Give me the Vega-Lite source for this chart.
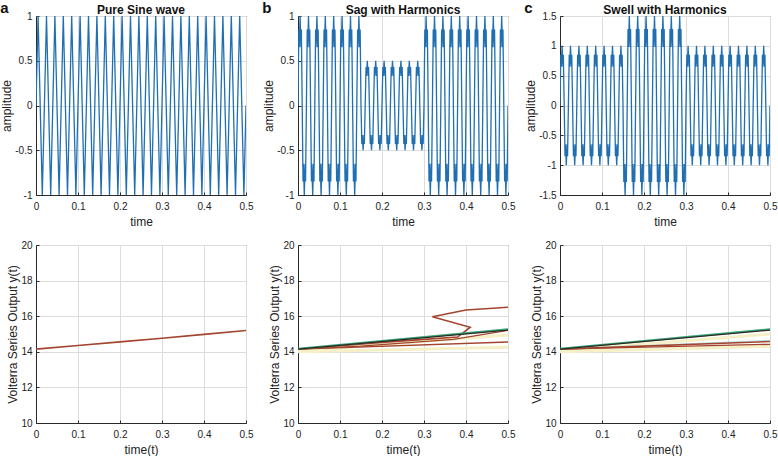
{
"$schema": "https://vega.github.io/schema/vega-lite/v6.json",
"padding": {"left": 0, "top": 0, "right": 0, "bottom": 0},
"background": "white",
"datasets": {
"sine": [
{"t":0,"v":0},{"t":0.005,"v":1},{"t":0.01,"v":0},{"t":0.015,"v":-1},
{"t":0.02,"v":0},{"t":0.025,"v":1},{"t":0.03,"v":0},{"t":0.035,"v":-1},
{"t":0.04,"v":0},{"t":0.045,"v":1},{"t":0.05,"v":0},{"t":0.055,"v":-1},
{"t":0.06,"v":0},{"t":0.065,"v":1},{"t":0.07,"v":0},{"t":0.075,"v":-1},
{"t":0.08,"v":0},{"t":0.085,"v":1},{"t":0.09,"v":0},{"t":0.095,"v":-1},
{"t":0.1,"v":0},{"t":0.105,"v":1},{"t":0.11,"v":0},{"t":0.115,"v":-1},
{"t":0.12,"v":0},{"t":0.125,"v":1},{"t":0.13,"v":0},{"t":0.135,"v":-1},
{"t":0.14,"v":0},{"t":0.145,"v":1},{"t":0.15,"v":0},{"t":0.155,"v":-1},
{"t":0.16,"v":0},{"t":0.165,"v":1},{"t":0.17,"v":0},{"t":0.175,"v":-1},
{"t":0.18,"v":0},{"t":0.185,"v":1},{"t":0.19,"v":0},{"t":0.195,"v":-1},
{"t":0.2,"v":0},{"t":0.205,"v":1},{"t":0.21,"v":0},{"t":0.215,"v":-1},
{"t":0.22,"v":0},{"t":0.225,"v":1},{"t":0.23,"v":0},{"t":0.235,"v":-1},
{"t":0.24,"v":0},{"t":0.245,"v":1},{"t":0.25,"v":0},{"t":0.255,"v":-1},
{"t":0.26,"v":0},{"t":0.265,"v":1},{"t":0.27,"v":0},{"t":0.275,"v":-1},
{"t":0.28,"v":0},{"t":0.285,"v":1},{"t":0.29,"v":0},{"t":0.295,"v":-1},
{"t":0.3,"v":0},{"t":0.305,"v":1},{"t":0.31,"v":0},{"t":0.315,"v":-1},
{"t":0.32,"v":0},{"t":0.325,"v":1},{"t":0.33,"v":0},{"t":0.335,"v":-1},
{"t":0.34,"v":0},{"t":0.345,"v":1},{"t":0.35,"v":0},{"t":0.355,"v":-1},
{"t":0.36,"v":0},{"t":0.365,"v":1},{"t":0.37,"v":0},{"t":0.375,"v":-1},
{"t":0.38,"v":0},{"t":0.385,"v":1},{"t":0.39,"v":0},{"t":0.395,"v":-1},
{"t":0.4,"v":0},{"t":0.405,"v":1},{"t":0.41,"v":0},{"t":0.415,"v":-1},
{"t":0.42,"v":0},{"t":0.425,"v":1},{"t":0.43,"v":0},{"t":0.435,"v":-1},
{"t":0.44,"v":0},{"t":0.445,"v":1},{"t":0.45,"v":0},{"t":0.455,"v":-1},
{"t":0.46,"v":0},{"t":0.465,"v":1},{"t":0.47,"v":0},{"t":0.475,"v":-1},
{"t":0.48,"v":0},{"t":0.485,"v":1},{"t":0.49,"v":0},{"t":0.495,"v":-1},
{"t":0.5,"v":0}
],
"harm": [
{"t":0,"b":0,"c":0},{"t":0.002,"b":0.85,"c":0.85},{"t":0.003,"b":0.65,"c":0.65},{"t":0.005,"b":1,"c":1},{"t":0.007,"b":0.65,"c":0.65},{"t":0.008,"b":0.85,"c":0.85},
{"t":0.01,"b":0,"c":0},{"t":0.012,"b":-0.85,"c":-0.85},{"t":0.013,"b":-0.65,"c":-0.65},{"t":0.015,"b":-1,"c":-1},{"t":0.017,"b":-0.65,"c":-0.65},{"t":0.018,"b":-0.85,"c":-0.85},
{"t":0.02,"b":0,"c":0},{"t":0.022,"b":0.85,"c":0.85},{"t":0.023,"b":0.65,"c":0.65},{"t":0.025,"b":1,"c":1},{"t":0.027,"b":0.65,"c":0.65},{"t":0.028,"b":0.85,"c":0.85},
{"t":0.03,"b":0,"c":0},{"t":0.032,"b":-0.85,"c":-0.85},{"t":0.033,"b":-0.65,"c":-0.65},{"t":0.035,"b":-1,"c":-1},{"t":0.037,"b":-0.65,"c":-0.65},{"t":0.038,"b":-0.85,"c":-0.85},
{"t":0.04,"b":0,"c":0},{"t":0.042,"b":0.85,"c":0.85},{"t":0.043,"b":0.65,"c":0.65},{"t":0.045,"b":1,"c":1},{"t":0.047,"b":0.65,"c":0.65},{"t":0.048,"b":0.85,"c":0.85},
{"t":0.05,"b":0,"c":0},{"t":0.052,"b":-0.85,"c":-0.85},{"t":0.053,"b":-0.65,"c":-0.65},{"t":0.055,"b":-1,"c":-1},{"t":0.057,"b":-0.65,"c":-0.65},{"t":0.058,"b":-0.85,"c":-0.85},
{"t":0.06,"b":0,"c":0},{"t":0.062,"b":0.85,"c":0.85},{"t":0.063,"b":0.65,"c":0.65},{"t":0.065,"b":1,"c":1},{"t":0.067,"b":0.65,"c":0.65},{"t":0.068,"b":0.85,"c":0.85},
{"t":0.07,"b":0,"c":0},{"t":0.072,"b":-0.85,"c":-0.85},{"t":0.073,"b":-0.65,"c":-0.65},{"t":0.075,"b":-1,"c":-1},{"t":0.077,"b":-0.65,"c":-0.65},{"t":0.078,"b":-0.85,"c":-0.85},
{"t":0.08,"b":0,"c":0},{"t":0.082,"b":0.85,"c":0.85},{"t":0.083,"b":0.65,"c":0.65},{"t":0.085,"b":1,"c":1},{"t":0.087,"b":0.65,"c":0.65},{"t":0.088,"b":0.85,"c":0.85},
{"t":0.09,"b":0,"c":0},{"t":0.092,"b":-0.85,"c":-0.85},{"t":0.093,"b":-0.65,"c":-0.65},{"t":0.095,"b":-1,"c":-1},{"t":0.097,"b":-0.65,"c":-0.65},{"t":0.098,"b":-0.85,"c":-0.85},
{"t":0.1,"b":0,"c":0},{"t":0.102,"b":0.85,"c":0.85},{"t":0.103,"b":0.65,"c":0.65},{"t":0.105,"b":1,"c":1},{"t":0.107,"b":0.65,"c":0.65},{"t":0.108,"b":0.85,"c":0.85},
{"t":0.11,"b":0,"c":0},{"t":0.112,"b":-0.85,"c":-0.85},{"t":0.113,"b":-0.65,"c":-0.65},{"t":0.115,"b":-1,"c":-1},{"t":0.117,"b":-0.65,"c":-0.65},{"t":0.118,"b":-0.85,"c":-0.85},
{"t":0.12,"b":0,"c":0},{"t":0.122,"b":0.85,"c":0.85},{"t":0.123,"b":0.65,"c":0.65},{"t":0.125,"b":1,"c":1},{"t":0.127,"b":0.65,"c":0.65},{"t":0.128,"b":0.85,"c":0.85},
{"t":0.13,"b":0,"c":0},{"t":0.132,"b":-0.85,"c":-0.85},{"t":0.133,"b":-0.65,"c":-0.65},{"t":0.135,"b":-1,"c":-1},{"t":0.137,"b":-0.65,"c":-0.65},{"t":0.138,"b":-0.85,"c":-0.85},
{"t":0.14,"b":0,"c":0},{"t":0.142,"b":0.85,"c":0.85},{"t":0.143,"b":0.65,"c":0.65},{"t":0.145,"b":1,"c":1},{"t":0.147,"b":0.65,"c":0.65},{"t":0.148,"b":0.85,"c":0.85},
{"t":0.15,"b":0,"c":0},{"t":0.152,"b":-0.43,"c":-1.28},{"t":0.153,"b":-0.33,"c":-0.98},{"t":0.155,"b":-0.5,"c":-1.5},{"t":0.157,"b":-0.33,"c":-0.98},{"t":0.158,"b":-0.43,"c":-1.28},
{"t":0.16,"b":0,"c":0},{"t":0.162,"b":0.43,"c":1.28},{"t":0.163,"b":0.33,"c":0.98},{"t":0.165,"b":0.5,"c":1.5},{"t":0.167,"b":0.33,"c":0.98},{"t":0.168,"b":0.43,"c":1.28},
{"t":0.17,"b":0,"c":0},{"t":0.172,"b":-0.43,"c":-1.28},{"t":0.173,"b":-0.33,"c":-0.98},{"t":0.175,"b":-0.5,"c":-1.5},{"t":0.177,"b":-0.33,"c":-0.98},{"t":0.178,"b":-0.43,"c":-1.28},
{"t":0.18,"b":0,"c":0},{"t":0.182,"b":0.43,"c":1.28},{"t":0.183,"b":0.33,"c":0.98},{"t":0.185,"b":0.5,"c":1.5},{"t":0.187,"b":0.33,"c":0.98},{"t":0.188,"b":0.43,"c":1.28},
{"t":0.19,"b":0,"c":0},{"t":0.192,"b":-0.43,"c":-1.28},{"t":0.193,"b":-0.33,"c":-0.98},{"t":0.195,"b":-0.5,"c":-1.5},{"t":0.197,"b":-0.33,"c":-0.98},{"t":0.198,"b":-0.43,"c":-1.28},
{"t":0.2,"b":0,"c":0},{"t":0.202,"b":0.43,"c":1.28},{"t":0.203,"b":0.33,"c":0.98},{"t":0.205,"b":0.5,"c":1.5},{"t":0.207,"b":0.33,"c":0.98},{"t":0.208,"b":0.43,"c":1.28},
{"t":0.21,"b":0,"c":0},{"t":0.212,"b":-0.43,"c":-1.28},{"t":0.213,"b":-0.33,"c":-0.98},{"t":0.215,"b":-0.5,"c":-1.5},{"t":0.217,"b":-0.33,"c":-0.98},{"t":0.218,"b":-0.43,"c":-1.28},
{"t":0.22,"b":0,"c":0},{"t":0.222,"b":0.43,"c":1.28},{"t":0.223,"b":0.33,"c":0.98},{"t":0.225,"b":0.5,"c":1.5},{"t":0.227,"b":0.33,"c":0.98},{"t":0.228,"b":0.43,"c":1.28},
{"t":0.23,"b":0,"c":0},{"t":0.232,"b":-0.43,"c":-1.28},{"t":0.233,"b":-0.33,"c":-0.98},{"t":0.235,"b":-0.5,"c":-1.5},{"t":0.237,"b":-0.33,"c":-0.98},{"t":0.238,"b":-0.43,"c":-1.28},
{"t":0.24,"b":0,"c":0},{"t":0.242,"b":0.43,"c":1.28},{"t":0.243,"b":0.33,"c":0.98},{"t":0.245,"b":0.5,"c":1.5},{"t":0.247,"b":0.33,"c":0.98},{"t":0.248,"b":0.43,"c":1.28},
{"t":0.25,"b":0,"c":0},{"t":0.252,"b":-0.43,"c":-1.28},{"t":0.253,"b":-0.33,"c":-0.98},{"t":0.255,"b":-0.5,"c":-1.5},{"t":0.257,"b":-0.33,"c":-0.98},{"t":0.258,"b":-0.43,"c":-1.28},
{"t":0.26,"b":0,"c":0},{"t":0.262,"b":0.43,"c":1.28},{"t":0.263,"b":0.33,"c":0.98},{"t":0.265,"b":0.5,"c":1.5},{"t":0.267,"b":0.33,"c":0.98},{"t":0.268,"b":0.43,"c":1.28},
{"t":0.27,"b":0,"c":0},{"t":0.272,"b":-0.43,"c":-1.28},{"t":0.273,"b":-0.33,"c":-0.98},{"t":0.275,"b":-0.5,"c":-1.5},{"t":0.277,"b":-0.33,"c":-0.98},{"t":0.278,"b":-0.43,"c":-1.28},
{"t":0.28,"b":0,"c":0},{"t":0.282,"b":0.43,"c":1.28},{"t":0.283,"b":0.33,"c":0.98},{"t":0.285,"b":0.5,"c":1.5},{"t":0.287,"b":0.33,"c":0.98},{"t":0.288,"b":0.43,"c":1.28},
{"t":0.29,"b":0,"c":0},{"t":0.292,"b":-0.43,"c":-1.28},{"t":0.293,"b":-0.33,"c":-0.98},{"t":0.295,"b":-0.5,"c":-1.5},{"t":0.297,"b":-0.33,"c":-0.98},{"t":0.298,"b":-0.43,"c":-1.28},
{"t":0.3,"b":0,"c":0},{"t":0.302,"b":0.85,"c":0.85},{"t":0.303,"b":0.65,"c":0.65},{"t":0.305,"b":1,"c":1},{"t":0.307,"b":0.65,"c":0.65},{"t":0.308,"b":0.85,"c":0.85},
{"t":0.31,"b":0,"c":0},{"t":0.312,"b":-0.85,"c":-0.85},{"t":0.313,"b":-0.65,"c":-0.65},{"t":0.315,"b":-1,"c":-1},{"t":0.317,"b":-0.65,"c":-0.65},{"t":0.318,"b":-0.85,"c":-0.85},
{"t":0.32,"b":0,"c":0},{"t":0.322,"b":0.85,"c":0.85},{"t":0.323,"b":0.65,"c":0.65},{"t":0.325,"b":1,"c":1},{"t":0.327,"b":0.65,"c":0.65},{"t":0.328,"b":0.85,"c":0.85},
{"t":0.33,"b":0,"c":0},{"t":0.332,"b":-0.85,"c":-0.85},{"t":0.333,"b":-0.65,"c":-0.65},{"t":0.335,"b":-1,"c":-1},{"t":0.337,"b":-0.65,"c":-0.65},{"t":0.338,"b":-0.85,"c":-0.85},
{"t":0.34,"b":0,"c":0},{"t":0.342,"b":0.85,"c":0.85},{"t":0.343,"b":0.65,"c":0.65},{"t":0.345,"b":1,"c":1},{"t":0.347,"b":0.65,"c":0.65},{"t":0.348,"b":0.85,"c":0.85},
{"t":0.35,"b":0,"c":0},{"t":0.352,"b":-0.85,"c":-0.85},{"t":0.353,"b":-0.65,"c":-0.65},{"t":0.355,"b":-1,"c":-1},{"t":0.357,"b":-0.65,"c":-0.65},{"t":0.358,"b":-0.85,"c":-0.85},
{"t":0.36,"b":0,"c":0},{"t":0.362,"b":0.85,"c":0.85},{"t":0.363,"b":0.65,"c":0.65},{"t":0.365,"b":1,"c":1},{"t":0.367,"b":0.65,"c":0.65},{"t":0.368,"b":0.85,"c":0.85},
{"t":0.37,"b":0,"c":0},{"t":0.372,"b":-0.85,"c":-0.85},{"t":0.373,"b":-0.65,"c":-0.65},{"t":0.375,"b":-1,"c":-1},{"t":0.377,"b":-0.65,"c":-0.65},{"t":0.378,"b":-0.85,"c":-0.85},
{"t":0.38,"b":0,"c":0},{"t":0.382,"b":0.85,"c":0.85},{"t":0.383,"b":0.65,"c":0.65},{"t":0.385,"b":1,"c":1},{"t":0.387,"b":0.65,"c":0.65},{"t":0.388,"b":0.85,"c":0.85},
{"t":0.39,"b":0,"c":0},{"t":0.392,"b":-0.85,"c":-0.85},{"t":0.393,"b":-0.65,"c":-0.65},{"t":0.395,"b":-1,"c":-1},{"t":0.397,"b":-0.65,"c":-0.65},{"t":0.398,"b":-0.85,"c":-0.85},
{"t":0.4,"b":0,"c":0},{"t":0.402,"b":0.85,"c":0.85},{"t":0.403,"b":0.65,"c":0.65},{"t":0.405,"b":1,"c":1},{"t":0.407,"b":0.65,"c":0.65},{"t":0.408,"b":0.85,"c":0.85},
{"t":0.41,"b":0,"c":0},{"t":0.412,"b":-0.85,"c":-0.85},{"t":0.413,"b":-0.65,"c":-0.65},{"t":0.415,"b":-1,"c":-1},{"t":0.417,"b":-0.65,"c":-0.65},{"t":0.418,"b":-0.85,"c":-0.85},
{"t":0.42,"b":0,"c":0},{"t":0.422,"b":0.85,"c":0.85},{"t":0.423,"b":0.65,"c":0.65},{"t":0.425,"b":1,"c":1},{"t":0.427,"b":0.65,"c":0.65},{"t":0.428,"b":0.85,"c":0.85},
{"t":0.43,"b":0,"c":0},{"t":0.432,"b":-0.85,"c":-0.85},{"t":0.433,"b":-0.65,"c":-0.65},{"t":0.435,"b":-1,"c":-1},{"t":0.437,"b":-0.65,"c":-0.65},{"t":0.438,"b":-0.85,"c":-0.85},
{"t":0.44,"b":0,"c":0},{"t":0.442,"b":0.85,"c":0.85},{"t":0.443,"b":0.65,"c":0.65},{"t":0.445,"b":1,"c":1},{"t":0.447,"b":0.65,"c":0.65},{"t":0.448,"b":0.85,"c":0.85},
{"t":0.45,"b":0,"c":0},{"t":0.452,"b":-0.85,"c":-0.85},{"t":0.453,"b":-0.65,"c":-0.65},{"t":0.455,"b":-1,"c":-1},{"t":0.457,"b":-0.65,"c":-0.65},{"t":0.458,"b":-0.85,"c":-0.85},
{"t":0.46,"b":0,"c":0},{"t":0.462,"b":0.85,"c":0.85},{"t":0.463,"b":0.65,"c":0.65},{"t":0.465,"b":1,"c":1},{"t":0.467,"b":0.65,"c":0.65},{"t":0.468,"b":0.85,"c":0.85},
{"t":0.47,"b":0,"c":0},{"t":0.472,"b":-0.85,"c":-0.85},{"t":0.473,"b":-0.65,"c":-0.65},{"t":0.475,"b":-1,"c":-1},{"t":0.477,"b":-0.65,"c":-0.65},{"t":0.478,"b":-0.85,"c":-0.85},
{"t":0.48,"b":0,"c":0},{"t":0.482,"b":0.85,"c":0.85},{"t":0.483,"b":0.65,"c":0.65},{"t":0.485,"b":1,"c":1},{"t":0.487,"b":0.65,"c":0.65},{"t":0.488,"b":0.85,"c":0.85},
{"t":0.49,"b":0,"c":0},{"t":0.492,"b":-0.85,"c":-0.85},{"t":0.493,"b":-0.65,"c":-0.65},{"t":0.495,"b":-1,"c":-1},{"t":0.497,"b":-0.65,"c":-0.65},{"t":0.498,"b":-0.85,"c":-0.85},
{"t":0.5,"b":0,"c":0}
],
"volt": [
{"p":"a","s":"brown1","i":0,"t":0,"y":14.15},{"p":"a","s":"brown1","i":1,"t":0.1,"y":14.35},{"p":"a","s":"brown1","i":2,"t":0.2,"y":14.56},{"p":"a","s":"brown1","i":3,"t":0.3,"y":14.76},{"p":"a","s":"brown1","i":4,"t":0.4,"y":14.98},{"p":"a","s":"brown1","i":5,"t":0.5,"y":15.2},
{"p":"b","s":"yellow1","i":0,"t":0,"y":14.0},{"p":"b","s":"yellow1","i":1,"t":0.5,"y":14.25},
{"p":"b","s":"yellow2","i":0,"t":0,"y":14.05},{"p":"b","s":"yellow2","i":1,"t":0.5,"y":14.95},
{"p":"b","s":"brown3","i":0,"t":0,"y":14.15},{"p":"b","s":"brown3","i":1,"t":0.5,"y":14.55},
{"p":"b","s":"brown2","i":0,"t":0,"y":14.15},{"p":"b","s":"brown2","i":1,"t":0.15,"y":14.32},{"p":"b","s":"brown2","i":2,"t":0.37,"y":14.7},{"p":"b","s":"brown2","i":3,"t":0.5,"y":15.2},
{"p":"b","s":"brown1","i":0,"t":0,"y":14.15},{"p":"b","s":"brown1","i":1,"t":0.1,"y":14.34},{"p":"b","s":"brown1","i":2,"t":0.2,"y":14.53},{"p":"b","s":"brown1","i":3,"t":0.3,"y":14.7},{"p":"b","s":"brown1","i":4,"t":0.38,"y":14.83},{"p":"b","s":"brown1","i":5,"t":0.41,"y":15.38},{"p":"b","s":"brown1","i":6,"t":0.32,"y":15.97},{"p":"b","s":"brown1","i":7,"t":0.4,"y":16.35},{"p":"b","s":"brown1","i":8,"t":0.5,"y":16.5},
{"p":"b","s":"green","i":0,"t":0,"y":14.17},{"p":"b","s":"green","i":1,"t":0.5,"y":15.27},
{"p":"b","s":"black","i":0,"t":0,"y":14.15},{"p":"b","s":"black","i":1,"t":0.5,"y":15.22},
{"p":"c","s":"yellow1","i":0,"t":0,"y":14.0},{"p":"c","s":"yellow1","i":1,"t":0.5,"y":14.3},
{"p":"c","s":"yellow2","i":0,"t":0,"y":14.05},{"p":"c","s":"yellow2","i":1,"t":0.5,"y":15.0},
{"p":"c","s":"cyan","i":0,"t":0,"y":14.15},{"p":"c","s":"cyan","i":1,"t":0.5,"y":14.65},
{"p":"c","s":"brown1","i":0,"t":0,"y":14.15},{"p":"c","s":"brown1","i":1,"t":0.5,"y":14.58},
{"p":"c","s":"brown2","i":0,"t":0,"y":14.15},{"p":"c","s":"brown2","i":1,"t":0.5,"y":14.42},
{"p":"c","s":"green","i":0,"t":0,"y":14.17},{"p":"c","s":"green","i":1,"t":0.5,"y":15.27},
{"p":"c","s":"black","i":0,"t":0,"y":14.15},{"p":"c","s":"black","i":1,"t":0.5,"y":15.22}
]
},
"spacing": 8,
"hconcat": [
{
"title": {"text": "a", "anchor": "start", "frame": "bounds", "fontSize": 15, "fontWeight": "bold", "dy": 12, "offset": 0},
"bounds": "flush",
"spacing": 50,
"vconcat": [
{"width": 210, "height": 179, "title": {"text": "Pure Sine wave", "offset": -6},
 "data": {"name": "sine"},
 "mark": {"type": "line", "color": "#1f6fb2", "strokeWidth": 1.3, "clip": true},
 "encoding": {
  "x": {"field": "t", "type": "quantitative", "scale": {"domain": [0, 0.5], "nice": false}, "axis": {"title": "time", "values": [0, 0.1, 0.2, 0.3, 0.4, 0.5], "format": "~g"}},
  "y": {"field": "v", "type": "quantitative", "scale": {"domain": [-1, 1], "nice": false}, "axis": {"title": "amplitude", "values": [-1, -0.5, 0, 0.5, 1], "format": "~g"}}
 }},
{"width": 210, "height": 178,
 "data": {"name": "volt"},
 "transform": [{"filter": "datum.p == 'a'"}],
 "mark": {"type": "line", "clip": true},
 "encoding": {
  "x": {"field": "t", "type": "quantitative", "scale": {"domain": [0, 0.5], "nice": false}, "axis": {"title": "time(t)", "values": [0, 0.1, 0.2, 0.3, 0.4, 0.5], "format": "~g"}},
  "y": {"field": "y", "type": "quantitative", "scale": {"domain": [10, 20], "nice": false}, "axis": {"title": "Volterra Series Output y(t)", "values": [10, 12, 14, 16, 18, 20]}},
  "order": {"field": "i", "type": "quantitative"},
  "color": {"field": "s", "type": "nominal", "legend": null, "scale": {"domain": ["yellow1", "yellow2", "cyan", "brown1", "brown2", "brown3", "green", "black"], "range": ["#f5f0c8", "#f5f0c8", "#b8e3e6", "#a2442e", "#a2442e", "#a2442e", "#3aa57a", "#2e2a22"]}},
  "strokeWidth": {"field": "s", "type": "nominal", "legend": null, "scale": {"type": "ordinal", "domain": ["yellow1", "yellow2", "cyan", "brown1", "brown2", "brown3", "green", "black"], "range": [3, 3, 1.2, 1.6, 1.3, 1.3, 2, 1.2]}}
 }}
]
},
{
"title": {"text": "b", "anchor": "start", "frame": "bounds", "fontSize": 15, "fontWeight": "bold", "dy": 12, "offset": 0},
"bounds": "flush",
"spacing": 50,
"vconcat": [
{"width": 210, "height": 179, "title": {"text": "Sag with Harmonics", "offset": -6},
 "data": {"name": "harm"},
 "mark": {"type": "line", "color": "#1f6fb2", "strokeWidth": 1.3, "clip": true},
 "encoding": {
  "x": {"field": "t", "type": "quantitative", "scale": {"domain": [0, 0.5], "nice": false}, "axis": {"title": "time", "values": [0, 0.1, 0.2, 0.3, 0.4, 0.5], "format": "~g"}},
  "y": {"field": "b", "type": "quantitative", "scale": {"domain": [-1, 1], "nice": false}, "axis": {"title": "amplitude", "values": [-1, -0.5, 0, 0.5, 1], "format": "~g"}}
 }},
{"width": 210, "height": 178,
 "data": {"name": "volt"},
 "transform": [{"filter": "datum.p == 'b'"}],
 "mark": {"type": "line", "clip": true},
 "encoding": {
  "x": {"field": "t", "type": "quantitative", "scale": {"domain": [0, 0.5], "nice": false}, "axis": {"title": "time(t)", "values": [0, 0.1, 0.2, 0.3, 0.4, 0.5], "format": "~g"}},
  "y": {"field": "y", "type": "quantitative", "scale": {"domain": [10, 20], "nice": false}, "axis": {"title": "Volterra Series Output y(t)", "values": [10, 12, 14, 16, 18, 20]}},
  "order": {"field": "i", "type": "quantitative"},
  "color": {"field": "s", "type": "nominal", "legend": null, "scale": {"domain": ["yellow1", "yellow2", "cyan", "brown1", "brown2", "brown3", "green", "black"], "range": ["#f5f0c8", "#f5f0c8", "#b8e3e6", "#a2442e", "#a2442e", "#a2442e", "#3aa57a", "#2e2a22"]}},
  "strokeWidth": {"field": "s", "type": "nominal", "legend": null, "scale": {"type": "ordinal", "domain": ["yellow1", "yellow2", "cyan", "brown1", "brown2", "brown3", "green", "black"], "range": [3, 3, 1.2, 1.6, 1.3, 1.3, 2, 1.2]}}
 }}
]
},
{
"title": {"text": "c", "anchor": "start", "frame": "bounds", "fontSize": 15, "fontWeight": "bold", "dy": 12, "offset": 0},
"bounds": "flush",
"spacing": 50,
"vconcat": [
{"width": 210, "height": 179, "title": {"text": "Swell with Harmonics", "offset": -6},
 "data": {"name": "harm"},
 "mark": {"type": "line", "color": "#1f6fb2", "strokeWidth": 1.3, "clip": true},
 "encoding": {
  "x": {"field": "t", "type": "quantitative", "scale": {"domain": [0, 0.5], "nice": false}, "axis": {"title": "time", "values": [0, 0.1, 0.2, 0.3, 0.4, 0.5], "format": "~g"}},
  "y": {"field": "c", "type": "quantitative", "scale": {"domain": [-1.5, 1.5], "nice": false}, "axis": {"title": "amplitude", "values": [-1.5, -1, -0.5, 0, 0.5, 1, 1.5], "format": "~g"}}
 }},
{"width": 210, "height": 178,
 "data": {"name": "volt"},
 "transform": [{"filter": "datum.p == 'c'"}],
 "mark": {"type": "line", "clip": true},
 "encoding": {
  "x": {"field": "t", "type": "quantitative", "scale": {"domain": [0, 0.5], "nice": false}, "axis": {"title": "time(t)", "values": [0, 0.1, 0.2, 0.3, 0.4, 0.5], "format": "~g"}},
  "y": {"field": "y", "type": "quantitative", "scale": {"domain": [10, 20], "nice": false}, "axis": {"title": "Volterra Series Output y(t)", "values": [10, 12, 14, 16, 18, 20]}},
  "order": {"field": "i", "type": "quantitative"},
  "color": {"field": "s", "type": "nominal", "legend": null, "scale": {"domain": ["yellow1", "yellow2", "cyan", "brown1", "brown2", "brown3", "green", "black"], "range": ["#f5f0c8", "#f5f0c8", "#b8e3e6", "#a2442e", "#a2442e", "#a2442e", "#3aa57a", "#2e2a22"]}},
  "strokeWidth": {"field": "s", "type": "nominal", "legend": null, "scale": {"type": "ordinal", "domain": ["yellow1", "yellow2", "cyan", "brown1", "brown2", "brown3", "green", "black"], "range": [3, 3, 1.2, 1.6, 1.3, 1.3, 2, 1.2]}}
 }}
]
}
],
"config": {
 "font": "Liberation Sans",
 "locale": {"number": {"decimal": ".", "thousands": ",", "grouping": [3], "currency": ["$", ""], "minus": "-"}},
 "view": {"stroke": "#3a3a3a", "strokeWidth": 1},
 "title": {"fontSize": 12, "fontWeight": "bold", "color": "#111111"},
 "axis": {"labelFontSize": 10, "labelColor": "#222222", "titleFontSize": 12, "titleFontWeight": "normal", "titleColor": "#222222", "gridColor": "#dcdcdc", "domainColor": "#2a2a2a", "tickColor": "#2a2a2a", "tickSize": -3, "labelPadding": 7, "labelFlush": false, "labelOverlap": false, "titlePadding": 1},
 "axisX": {"labelPadding": 9, "titlePadding": 5}
}
}
